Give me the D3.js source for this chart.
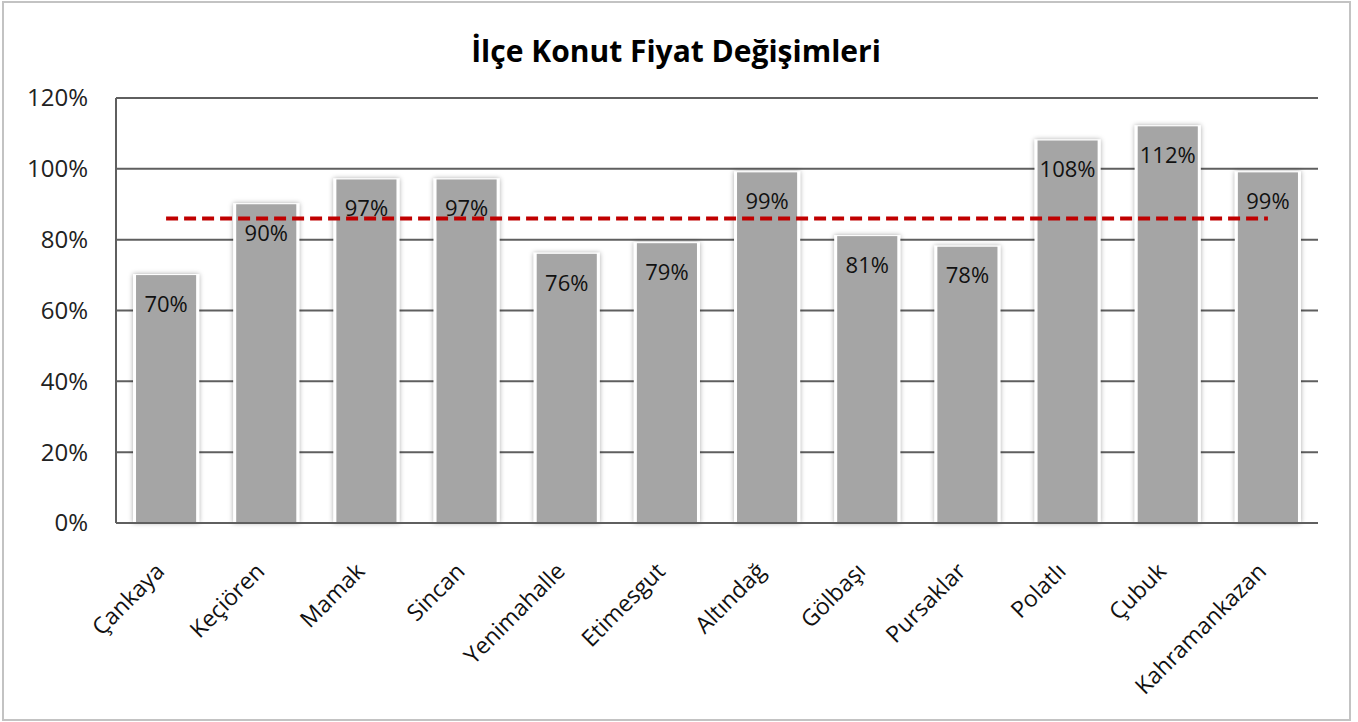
<!DOCTYPE html>
<html>
<head>
<meta charset="utf-8">
<script src="https://cdn.jsdelivr.net/npm/d3@7"></script>
<style>
  body { margin: 0; background: #fff; }
  #chart { width: 1358px; height: 722px; }
</style>
</head>
<body>
<div id="chart"></div>
<script>
// data
const districts = ["Çankaya", "Keçiören", "Mamak", "Sincan", "Yenimahalle", "Etimesgut",
    "Altındağ", "Gölbaşı", "Pursaklar", "Polatlı", "Çubuk", "Kahramankazan"];
const changes = [70, 90, 97, 97, 76, 79, 99, 81, 78, 108, 112, 99];
const average = 86;
const yTicks = [0, 20, 40, 60, 80, 100, 120];

const width = 1358;
const height = 722;
const margin = { top: 98, left: 116, right: 40, bottom: 199 };

const svg = d3.select("#chart")
    .append("svg")
    .attr("width", width)
    .attr("height", height)
    .style("font-family", "'Open Sans', sans-serif");

// soft shadow round the bars
const defs = svg.append("defs");
const f = defs.append("filter").attr("id", "shadow")
    .attr("x", "-20%").attr("y", "-10%").attr("width", "140%").attr("height", "120%");
f.append("feDropShadow").attr("dx", 0).attr("dy", 0).attr("stdDeviation", 2.5)
    .attr("flood-color", "#000").attr("flood-opacity", 0.35);

// outer frame
svg.append("rect")
    .attr("x", 3).attr("y", 2)
    .attr("width", 1347).attr("height", 718)
    .attr("fill", "none")
    .attr("stroke", "#c3c3c3")
    .attr("stroke-width", 2);

svg.append("text")
    .attr("x", 676).attr("y", 51)
    .attr("dy", "0.35em")
    .attr("text-anchor", "middle")
    .style("font-size", "30px")
    .style("font-weight", "bold")
    .text("İlçe Konut Fiyat Değişimleri");

const x = d3.scaleBand()
    .domain(districts)
    .range([margin.left, width - margin.right])
    .paddingInner(0.4)
    .paddingOuter(0.2);

const y = d3.scaleLinear()
    .domain([0, 120])
    .range([height - margin.bottom, margin.top]);

// gridlines
svg.append("g")
    .selectAll("line")
    .data(yTicks)
    .join("line")
    .attr("x1", margin.left)
    .attr("x2", width - margin.right)
    .attr("y1", d => y(d))
    .attr("y2", d => y(d))
    .attr("stroke", "#5f5f5f")
    .attr("stroke-width", 2);

// y axis labels
svg.append("g")
    .selectAll("text")
    .data(yTicks)
    .join("text")
    .attr("x", 88)
    .attr("y", d => y(d))
    .attr("dy", "0.35em")
    .attr("text-anchor", "end")
    .style("font-size", "24px")
    .attr("fill", "#222")
    .text(d => d + "%");

// bars, with white halo cutting the gridlines
svg.append("g")
    .selectAll("rect")
    .data(changes)
    .join("rect")
    .attr("x", (d, i) => x(districts[i]) - 3)
    .attr("y", d => y(d) - 1)
    .attr("width", x.bandwidth() + 6)
    .attr("height", d => y(0) - y(d) + 1)
    .attr("fill", "#fff")
    .attr("filter", "url(#shadow)");

svg.append("g")
    .selectAll("rect")
    .data(changes)
    .join("rect")
    .attr("x", (d, i) => x(districts[i]))
    .attr("y", d => y(d))
    .attr("width", x.bandwidth())
    .attr("height", d => y(0) - y(d))
    .attr("fill", "#a5a5a5");

// axis lines
svg.append("line")
    .attr("x1", margin.left).attr("x2", margin.left)
    .attr("y1", y(120)).attr("y2", y(0))
    .attr("stroke", "#5f5f5f").attr("stroke-width", 2);
svg.append("line")
    .attr("x1", margin.left).attr("x2", width - margin.right)
    .attr("y1", y(0)).attr("y2", y(0))
    .attr("stroke", "#5f5f5f").attr("stroke-width", 2);

// average line
const line = d3.line()
    .x(d => x(d) + x.bandwidth() / 2)
    .y(() => y(average));
svg.append("path")
    .datum(districts)
    .attr("d", line)
    .attr("fill", "none")
    .attr("stroke", "#c00000")
    .attr("stroke-width", 4)
    .attr("stroke-dasharray", "12,6");

// value labels
svg.append("g")
    .selectAll("text")
    .data(changes)
    .join("text")
    .attr("x", (d, i) => x(districts[i]) + x.bandwidth() / 2)
    .attr("y", d => y(d) + 29)
    .attr("dy", "0.35em")
    .attr("text-anchor", "middle")
    .style("font-size", "22px")
    .attr("fill", "#111")
    .text(d => d + "%");

// rotated category labels
svg.append("g")
    .selectAll("text")
    .data(districts)
    .join("text")
    .attr("transform", d => `translate(${x(d) + x.bandwidth() / 2 - 6},${y(0) + 44}) rotate(-45)`)
    .attr("text-anchor", "end")
    .attr("dy", "0.35em")
    .style("font-size", "23px")
    .attr("fill", "#111")
    .text(d => d);
</script>
</body>
</html>
